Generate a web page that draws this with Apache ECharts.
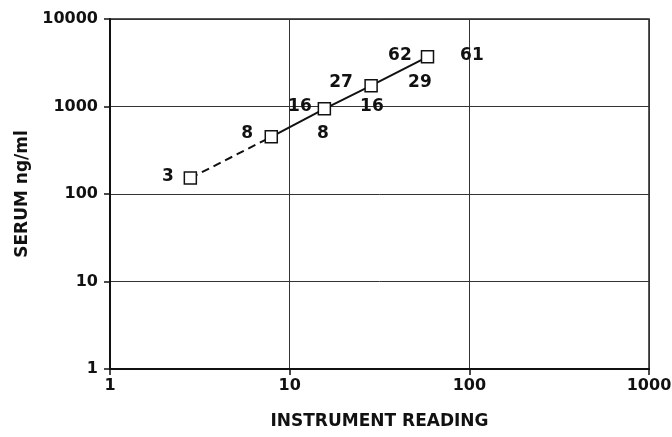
<!DOCTYPE html>
<html>
<head>
<meta charset="utf-8">
<script src="https://cdn.jsdelivr.net/npm/echarts@6/dist/echarts.min.js"></script>
<style>
html,body{margin:0;padding:0;background:#fff;}
#c{width:672px;height:437px;}
</style>
</head>
<body>
<div id="c"></div>
<script>
// Measured points (instrument reading, serum ng/ml)
const readings = [2.8, 7.9, 15.6, 28.4, 58.5];
const serum = [152, 450, 940, 1730, 3700];
// Annotation texts and their positions (data coordinates)
const noteTexts = ['3', '8', '16', '8', '27', '16', '62', '29', '61'];
const noteX = [2.1, 5.8, 11.4, 15.3, 19.3, 28.7, 41.1, 53.1, 103.4];
const noteY = [160, 485, 990, 485, 1860, 1010, 3780, 1860, 3780];
const xTicks = [1, 10, 100, 1000];
const yTicks = [1, 10, 100, 1000, 10000];

const FONT = 'DejaVu Sans';
const pts = readings.map((x, i) => [x, serum[i]]);
const dashedPts = pts.slice(0, 2);
const solidPts = pts.slice(1);
const notes = noteTexts.map((t, i) => ({ value: [noteX[i], noteY[i]], name: t }));
const fmt = v => String(Math.round(v));

const chart = echarts.init(document.getElementById('c'), null, { renderer: 'canvas' });
chart.setOption({
  animation: false,
  backgroundColor: '#fff',
  grid: { left: 110, right: 23, top: 19, bottom: 68, show: true, borderColor: '#222', borderWidth: 1.5, backgroundColor: 'transparent', outerBoundsMode: 'none', containLabel: false },
  xAxis: {
    type: 'log', logBase: 10, min: xTicks[0], max: xTicks[xTicks.length - 1],
    name: 'INSTRUMENT READING', nameLocation: 'middle', nameGap: 44,
    nameTextStyle: { fontFamily: FONT, fontSize: 17, fontWeight: 'bold', color: '#111' },
    axisLine: { show: true, lineStyle: { color: '#111', width: 2 } },
    axisTick: { show: true, inside: false, length: 6, lineStyle: { color: '#111', width: 1.5 } },
    minorTick: { show: false },
    axisLabel: { fontFamily: FONT, fontSize: 16, fontWeight: 'bold', color: '#111', margin: 9, formatter: fmt },
    splitLine: { show: true, lineStyle: { color: '#333', width: 1 } }
  },
  yAxis: {
    type: 'log', logBase: 10, min: yTicks[0], max: yTicks[yTicks.length - 1],
    name: 'SERUM ng/ml', nameLocation: 'middle', nameGap: 72, nameRotate: 90,
    nameTextStyle: { fontFamily: FONT, fontSize: 17, fontWeight: 'bold', color: '#111' },
    axisLine: { show: true, lineStyle: { color: '#111', width: 2 } },
    axisTick: { show: true, inside: false, length: 6, lineStyle: { color: '#111', width: 1.5 } },
    axisLabel: { fontFamily: FONT, fontSize: 16, fontWeight: 'bold', color: '#111', margin: 12, formatter: fmt },
    splitLine: { show: true, lineStyle: { color: '#333', width: 1 } }
  },
  series: [
    {
      type: 'line', data: dashedPts, symbol: 'none',
      lineStyle: { color: '#111', width: 2, type: [8, 5] }, z: 3
    },
    {
      type: 'line', data: solidPts, symbol: 'none',
      lineStyle: { color: '#111', width: 2 }, z: 3
    },
    {
      type: 'scatter', data: pts, symbol: 'rect', symbolSize: 12,
      itemStyle: { color: '#fff', borderColor: '#111', borderWidth: 1.5, opacity: 1 }, z: 4
    },
    {
      type: 'scatter', data: notes, symbolSize: 0, silent: true,
      itemStyle: { opacity: 1 },
      label: { show: true, position: 'inside', formatter: p => p.name, fontFamily: FONT, fontSize: 17, fontWeight: 'bold', color: '#111' },
      z: 5
    }
  ]
});
</script>
</body>
</html>
